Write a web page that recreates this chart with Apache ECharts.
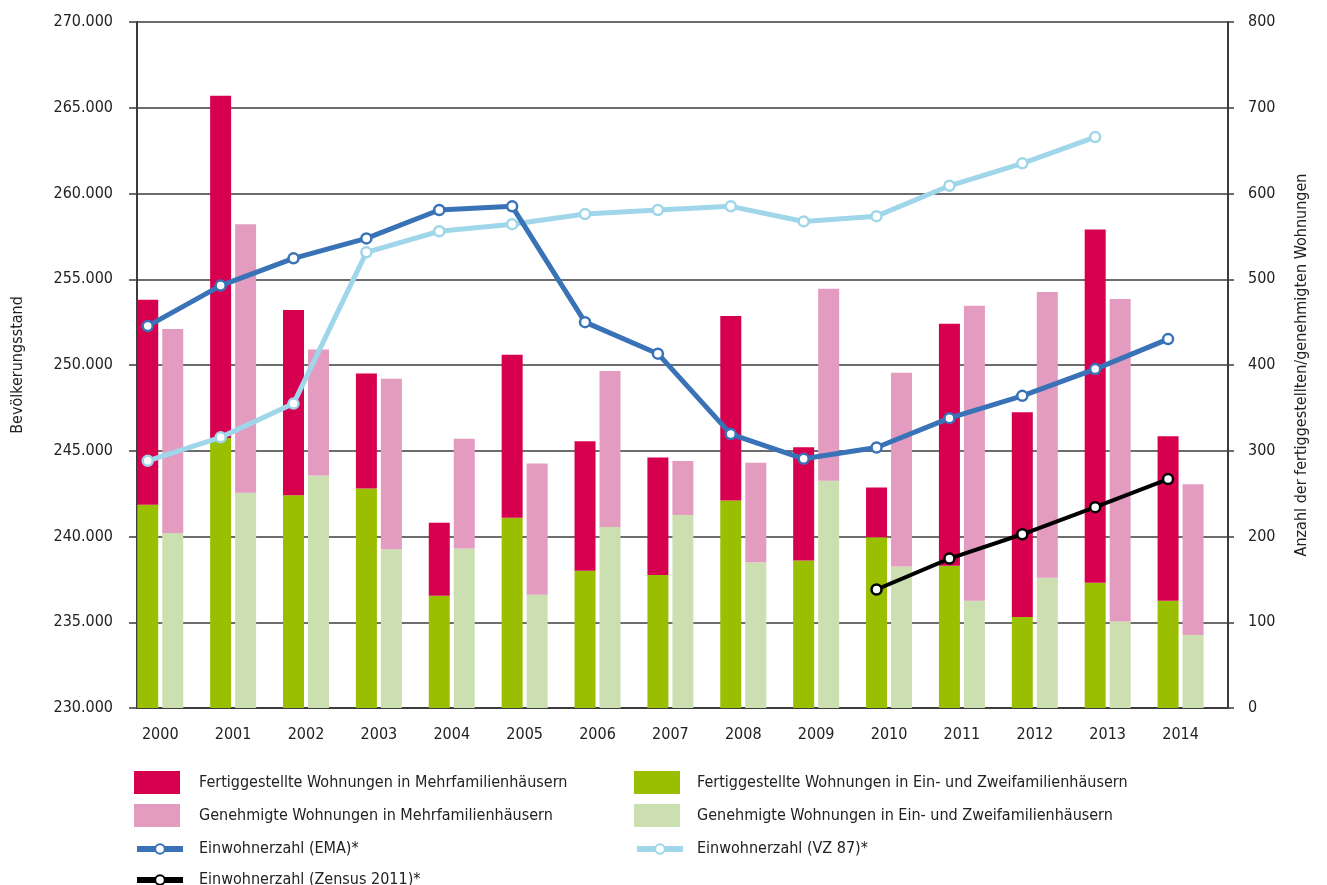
<!DOCTYPE html>
<html>
<head>
<meta charset="utf-8">
<script src="https://cdn.jsdelivr.net/npm/echarts@6/dist/echarts.min.js"></script>
<style>
  html, body { margin: 0; padding: 0; background: #fff; }
  #chart { width: 1327px; height: 885px; }
</style>
</head>
<body>
<div id="chart"></div>
<script>
var years = ['2000', '2001', '2002', '2003', '2004', '2005', '2006', '2007', '2008', '2009', '2010', '2011', '2012', '2013', '2014'];

// Wohnungen (rechte Achse)
var fertigEZ = [237, 315, 248, 256, 131, 222, 160, 155, 242, 172, 199, 166, 106, 146, 125];
var fertigMF = [239, 399, 216, 134, 85, 190, 151, 137, 215, 132, 58, 282, 239, 412, 192];
var genEZ = [204, 251, 271, 185, 186, 132, 211, 225, 170, 265, 165, 125, 152, 101, 85];
var genMF = [238, 313, 147, 199, 128, 153, 182, 63, 116, 224, 226, 344, 333, 376, 176];

// Einwohner (linke Achse)
var einwEMA = [252270, 254630, 256220, 257380, 259040, 259250, 252500, 250660, 245970, 244530, 245190, 246900, 248200, 249760, 251510];
var einwVZ87 = [244410, 245780, 247750, 256570, 257800, 258210, 258800, 259040, 259250, 258370, 258680, 260450, 261760, 263290, null];
var einwZensus = [null, null, null, null, null, null, null, null, null, null, 236910, 238710, 240130, 241710, 243350];

var leftMin = 230000, leftMax = 270000, leftStep = 5000;
var rightMin = 0, rightMax = 800, rightStep = 100;

var FONT = "'Liberation Sans Narrow', 'DejaVu Sans Condensed', 'Roboto', sans-serif";
var GRID_COLOR = '#3c3c3c';
var TEXT_COLOR = '#222';

function fmt(v) {
  return String(v).replace(/\B(?=(\d{3})+(?!\d))/g, '.');
}

(function(){
  var myChart = echarts.init(document.getElementById('chart'));

  var lineSeries = function (name, data, color, width) {
    return {
      name: name,
      type: 'line',
      xAxisIndex: 2,
      yAxisIndex: 4,
      data: data,
      symbol: 'circle',
      symbolSize: 10,
      showSymbol: true,
      connectNulls: false,
      z: 5,
      lineStyle: { color: color, width: width },
      itemStyle: { color: '#fff', borderColor: color, borderWidth: 2.5 }
    };
  };

  var barSeries = function (name, data, color, stack) {
    return {
      name: name,
      type: 'bar',
      xAxisIndex: 1,
      yAxisIndex: 3,
      stack: stack,
      data: data,
      barWidth: 21,
      barGap: '19%',
      itemStyle: { color: color }
    };
  };

  // legend blocks: rect swatches (two rows) and single line swatches
  var rectLegend = function (left, pad, names) {
    return {
      orient: 'vertical',
      left: left,
      top: 771,
      padding: 0,
      itemWidth: 46,
      itemHeight: 23,
      itemGap: 10,
      textStyle: { fontSize: 16, color: TEXT_COLOR, fontFamily: FONT, padding: [0, 0, 0, pad] },
      data: names.map(function (n) { return { name: n, icon: 'rect' }; })
    };
  };
  var lineLegend = function (left, top, pad, name) {
    return {
      orient: 'vertical',
      left: left,
      top: top,
      padding: 0,
      itemWidth: 46,
      itemHeight: 12,
      lineStyle: { width: 6 },
      textStyle: { fontSize: 16, color: TEXT_COLOR, fontFamily: FONT, padding: [0, 0, 0, pad] },
      data: [name]
    };
  };

  var option = {
    animation: false,
    textStyle: { fontFamily: FONT },
    grid: [
      { left: 137, right: 99, top: 22, bottom: 177 },
      { left: 123.8, right: 110, top: 22, bottom: 177 },
      { left: 111.3, right: 122.5, top: 22, bottom: 177 }
    ],
    legend: [
      rectLegend(134, 14, ['Fertiggestellte Wohnungen in Mehrfamilienhäusern', 'Genehmigte Wohnungen in Mehrfamilienhäusern']),
      rectLegend(634, 12, ['Fertiggestellte Wohnungen in Ein- und Zweifamilienhäusern', 'Genehmigte Wohnungen in Ein- und Zweifamilienhäusern']),
      lineLegend(134, 841, 11, 'Einwohnerzahl (EMA)*'),
      lineLegend(634, 841, 9, 'Einwohnerzahl (VZ 87)*'),
      lineLegend(134, 872, 11, 'Einwohnerzahl (Zensus 2011)*')
    ],
    xAxis: [
      {
        gridIndex: 0,
        type: 'category',
        data: years,
        axisLine: { show: true, lineStyle: { color: GRID_COLOR, width: 2 } },
        axisTick: { show: false },
        axisLabel: { show: false },
        splitLine: { show: false }
      },
      {
        gridIndex: 1,
        type: 'category',
        data: years,
        axisLine: { show: false },
        axisTick: { show: false },
        axisLabel: { fontSize: 16, color: TEXT_COLOR, margin: 19, fontFamily: FONT }
      },
      {
        gridIndex: 2,
        type: 'category',
        data: years,
        show: false
      }
    ],
    yAxis: [
      {
        gridIndex: 0,
        type: 'value',
        position: 'left',
        min: leftMin,
        max: leftMax,
        interval: leftStep,
        name: 'Bevölkerungsstand',
        nameLocation: 'middle',
        nameGap: 111,
        nameTextStyle: { fontSize: 16, color: TEXT_COLOR, fontFamily: FONT },
        axisLine: { show: true, lineStyle: { color: GRID_COLOR, width: 2 } },
        axisTick: { show: true, length: 8, lineStyle: { color: GRID_COLOR, width: 1.5 } },
        axisLabel: { fontSize: 16, color: TEXT_COLOR, margin: 24, fontFamily: FONT, formatter: fmt },
        splitLine: { show: true, lineStyle: { color: GRID_COLOR, width: 1.5 } }
      },
      {
        gridIndex: 0,
        type: 'value',
        position: 'right',
        min: rightMin,
        max: rightMax,
        interval: rightStep,
        name: 'Anzahl der fertiggestellten/genehmigten Wohnungen',
        nameLocation: 'middle',
        nameRotate: 90,
        nameGap: 66,
        nameTextStyle: { fontSize: 16, color: TEXT_COLOR, fontFamily: FONT },
        axisLine: { show: true, lineStyle: { color: GRID_COLOR, width: 2 } },
        axisTick: { show: true, length: 6, lineStyle: { color: GRID_COLOR, width: 1.5 } },
        axisLabel: { fontSize: 16, color: TEXT_COLOR, margin: 20, fontFamily: FONT },
        splitLine: { show: false }
      },
      { gridIndex: 1, type: 'value', min: leftMin, max: leftMax, show: false },
      { gridIndex: 1, type: 'value', min: rightMin, max: rightMax, show: false },
      { gridIndex: 2, type: 'value', min: leftMin, max: leftMax, show: false }
    ],
    series: [
      barSeries('Fertiggestellte Wohnungen in Ein- und Zweifamilienhäusern', fertigEZ, '#99bf00', 'fertig'),
      barSeries('Fertiggestellte Wohnungen in Mehrfamilienhäusern', fertigMF, '#d7004f', 'fertig'),
      barSeries('Genehmigte Wohnungen in Ein- und Zweifamilienhäusern', genEZ, '#cbdfb1', 'genehmigt'),
      barSeries('Genehmigte Wohnungen in Mehrfamilienhäusern', genMF, '#e39bc0', 'genehmigt'),
      lineSeries('Einwohnerzahl (VZ 87)*', einwVZ87, '#9fd6ea', 5),
      lineSeries('Einwohnerzahl (EMA)*', einwEMA, '#3a72b8', 5),
      lineSeries('Einwohnerzahl (Zensus 2011)*', einwZensus, '#000000', 4)
    ]
  };

  myChart.setOption(option);
  window.addEventListener('resize', function () {
    myChart.resize();
  });
})();
</script>
</body>
</html>
